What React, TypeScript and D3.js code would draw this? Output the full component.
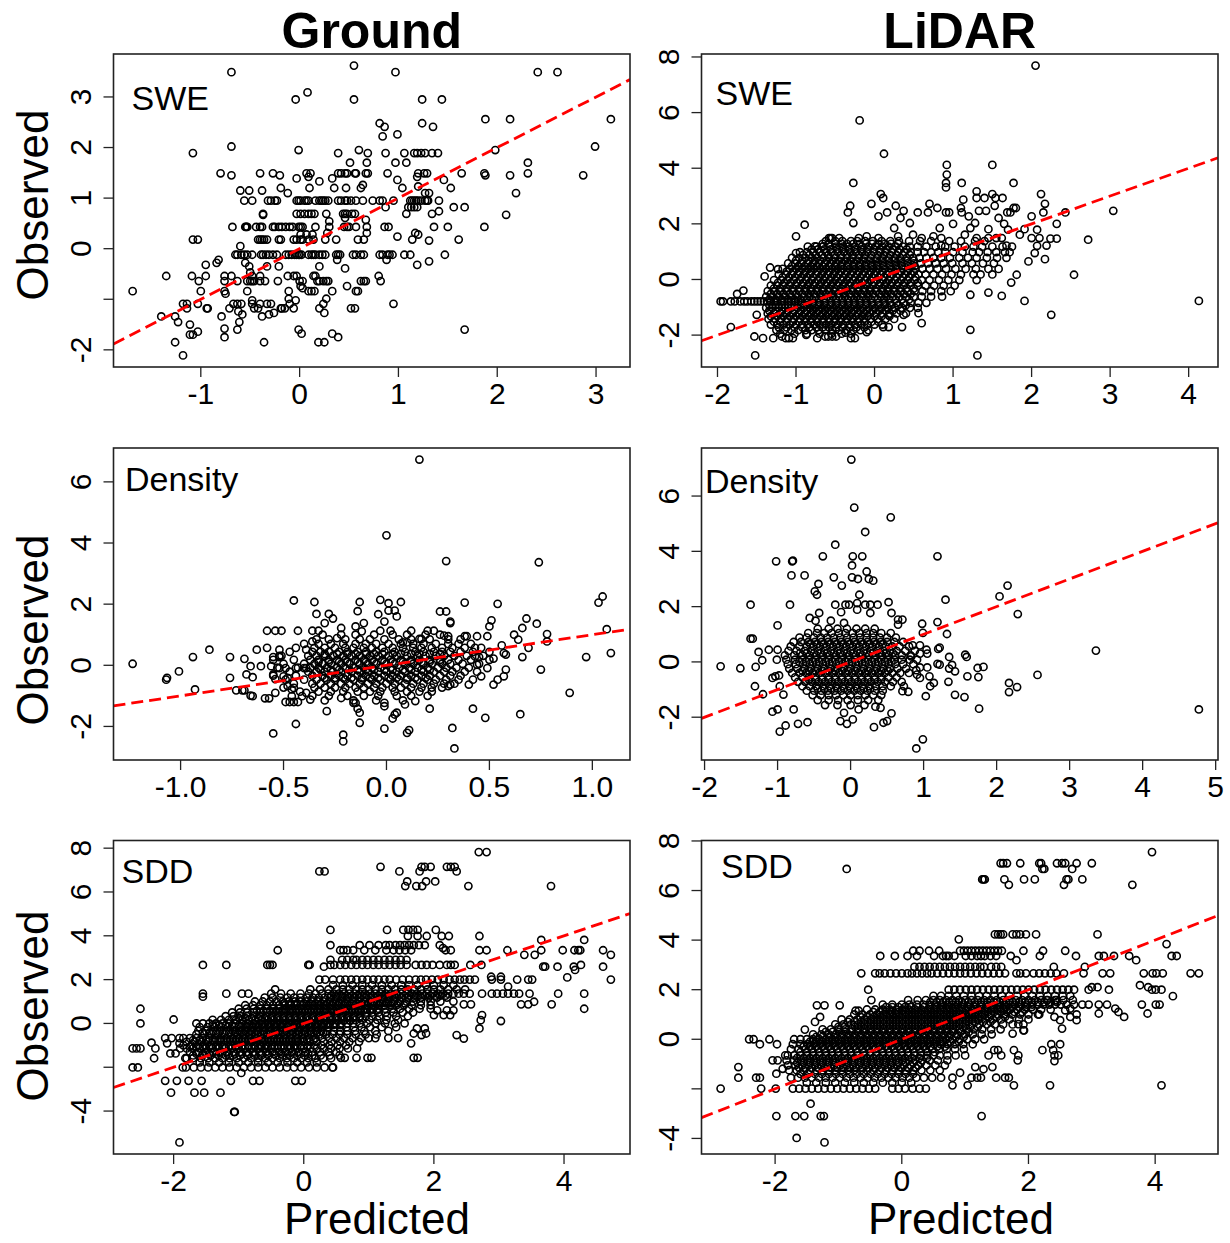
import React from "react";
import * as d3 from "d3";

type Row = [number, number[]];

// ---------- data: each row = [observed value, predicted values] ----------
const groundSWE: Row[] = [
  [3.62, [0.55]], [3.49, [-0.69, 0.97, 2.41, 2.61]], [3.09, [0.08]], [2.95, [-0.04, 0.55, 1.24, 1.44]],
  [2.56, [1.88, 2.13, 3.15]], [2.48, [0.81, 1.24]], [2.41, [0.86, 1.35]], [2.26, [0.99]], [2.22, [0.84]],
  [2.02, [-0.69, 2.99]], [1.95, [-0.01, 0.6, 1.98]],
  [1.89, [-1.08, 0.39, 0.69, 0.87, 1.06, 1.16, 1.19, 1.23, 1.27, 1.34, 1.4]],
  [1.7, [0.51, 0.68, 0.97, 1.08, 2.31]],
  [1.49, [-0.8, -0.4, -0.27, 0.07, 0.11, 0.39, 0.42, 0.46, 0.48, 0.56, 0.57, 0.67, 0.69, 0.89, 1.2, 1.26, 1.29, 1.64, 1.87, 2.31]],
  [1.45, [-0.69, -0.2, 1.88, 2.13, 2.87]], [1.42, [0.09, 1.19]], [1.39, [-0.03, 0.33]], [1.36, [0.99, 1.46]],
  [1.33, [0.2]], [1.26, [0.64]], [1.23, [1.2]], [1.2, [-0.19, 0.1, 0.35, 0.47, 0.62, 1.04, 1.53]],
  [1.15, [-0.6, -0.51, -0.38]], [1.1, [-0.12, 1.27, 1.31, 2.19]],
  [0.95, [-0.56, -0.48, -0.32, -0.29, -0.25, -0.23, -0.03, -0.01, 0.01, 0.05, 0.07, 0.09, 0.16, 0.2, 0.22, 0.24, 0.26, 0.29, 0.39, 0.42, 0.46, 0.48, 0.52, 0.57, 0.64, 0.74, 0.81, 0.84, 0.95, 1.12, 1.14, 1.16, 1.18, 1.2, 1.23, 1.27, 1.29, 1.3, 1.41]],
  [0.82, [0.87, 1.1, 1.13, 1.16, 1.19, 1.56, 1.67]], [0.74, [1.41]],
  [0.69, [-0.37, -0.03, 0.01, 0.05, 0.09, 0.12, 0.15, 0.27, 0.44, 0.46, 0.48, 0.53, 0.56, 1.08, 1.34]],
  [0.67, [-0.37, 2.09]], [0.61, [0.46]], [0.57, [0.67]], [0.54, [0.3]],
  [0.43, [-0.68, -0.55, -0.54, -0.53, -0.44, -0.4, -0.38, -0.27, -0.25, -0.21, -0.18, -0.14, -0.1, -0.07, -0.01, 0.01, 0.03, 0.16, 0.3, 0.45, 0.48, 0.5, 0.57, 0.68, 0.86, 0.9, 1.36, 1.5, 1.87]],
  [0.31, [0.28, 0.68, 1.17]], [0.28, [0.01, 0.07, 0.13, 1.2]], [0.24, [0.99]],
  [0.18, [-1.08, -1.03, -0.42, -0.4, -0.38, -0.36, -0.33, -0.21, -0.19, -0.06, -0.03, 0.01, 0.03, 0.09, 0.14, 0.26, 0.37, 0.59, 0.65, 1.14, 1.61]],
  [0.16, [1.31]], [0.05, [-0.6]],
  [-0.12, [-0.65, -0.63, -0.59, -0.56, -0.53, -0.48, -0.39, -0.37, -0.34, -0.31, -0.27, -0.23, -0.14, -0.11, -0.08, -0.05, -0.03, -0.01, 0.0, 0.02, 0.09, 0.12, 0.14, 0.16, 0.2, 0.23, 0.26, 0.37, 0.39, 0.41, 0.54, 0.57, 0.62, 0.65, 0.81, 0.84, 0.89, 0.91, 0.94, 1.06, 1.12, 1.47]],
  [-0.22, [-0.82, 0.38, 0.88]], [-0.25, [1.31]], [-0.28, [-0.84, -0.55]], [-0.32, [-0.95, 1.19]],
  [-0.35, [-0.51, -0.33, -0.21, 0.2]], [-0.39, [0.46]], [-0.47, [-0.5]],
  [-0.54, [-1.35, -1.09, -0.95, -0.76, -0.69, -0.48, -0.4, -0.12, -0.06, -0.03, 0.14, 0.16, 0.8]],
  [-0.64, [-1.02, -0.76, -0.63, -0.53, -0.5, -0.48, -0.46, -0.4, -0.35, -0.22, 0.0, 0.03, 0.18, 0.2, 0.24, 0.27, 0.29, 0.62, 0.65, 0.67, 0.82]],
  [-0.74, [0.01, 0.48]], [-0.78, [0.03]],
  [-0.84, [-1.69, -1.0, -0.76, -0.53, -0.11, 0.09, 0.12, 0.15, 0.33, 0.57, 0.59]],
  [-0.89, [-0.75]], [-0.99, [-0.11, 0.27]], [-1.02, [-0.48, -0.04]],
  [-1.09, [-1.18, -1.14, -1.03, -0.67, -0.63, -0.59, -0.48, -0.4, -0.33, -0.29, -0.1, 0.24, 0.95]],
  [-1.18, [-1.14, -0.94, -0.93, -0.71, -0.46, -0.42, -0.19, -0.18, -0.15, -0.06, 0.2, 0.52, 0.56]],
  [-1.24, [-0.62]], [-1.27, [-0.26, 0.25]], [-1.3, [-0.58, -0.31]], [-1.34, [-1.4, -1.26, -0.79, -0.38]],
  [-1.45, [-1.23, -0.61]], [-1.5, [-1.11]], [-1.58, [-0.76]], [-1.6, [-0.63, -0.01, 1.67]], [-1.64, [-1.03]],
  [-1.68, [0.02, 0.33]], [-1.7, [-1.11, -1.08]], [-1.75, [-0.76, 0.39]], [-1.85, [-1.26, -0.36, 0.19, 0.25]],
  [-2.11, [-1.18]],
];

const lidarSWE: Row[] = [
  [7.69, [2.05]], [5.72, [-0.19]], [4.52, [0.12]], [4.12, [0.92, 1.5]], [3.77, [0.92]],
  [3.47, [-0.27, 0.91, 1.11, 1.77]], [3.31, [0.91]], [3.17, [1.3]], [3.07, [0.08, 1.5, 2.12]],
  [2.93, [0.11, 1.3, 1.4, 1.54, 1.63]], [2.87, [1.13]], [2.72, [-0.04, 0.7, 2.17]], [2.65, [-0.31, 0.27, 1.53]],
  [2.57, [0.8, 1.1, 1.77, 1.8]], [2.47, [0.37, 1.33, 1.42, 3.04]],
  [2.41, [-0.34, 0.16, 0.55, 0.68, 0.91, 0.95, 1.11, 1.69, 1.73, 2.15, 2.43]],
  [2.27, [0.05, 1.2, 2.0]], [2.21, [0.33, 1.58]], [2.03, [-0.27, 0.45, 1.28]], [2.0, [1.0, 1.65, 2.32]],
  [1.97, [-0.89]], [1.85, [0.25, 0.83, 1.22]], [1.81, [1.45, 1.91]], [1.79, [1.7, 2.07]],
  [1.61, [0.49, 1.15, 1.85]], [1.55, [-1.0, -0.1, 0.3, 0.75]],
  [1.49, [-0.58, -0.56, -0.54, -0.45, -0.2, 0.05, 0.6, 0.85, 1.3, 1.45, 1.55, 1.62, 2.0, 2.1]],
  [1.47, [2.24, 2.32]], [1.43, [2.72]], [1.22, [0.85, 1.68, 2.19]], [1.21, [2.07]], [1.19, [-0.76, -0.65]],
  [0.95, [-1.0, 2.04]], [0.73, [2.17]], [0.65, [1.96]], [0.47, [-0.97]], [0.43, [-1.33]], [0.37, [-1.23]],
  [0.17, [1.81, 2.54]], [0.11, [-1.4]], [-0.11, [1.74]], [-0.4, [-1.67]], [-0.47, [1.45]], [-0.52, [-1.75]],
  [-0.55, [1.22]], [-0.59, [1.62]], [-0.77, [1.91, 4.13]],
  [-0.79, [-1.96, -1.93, -1.83, -1.78, -1.71, -1.66, -1.62, -1.57, -1.53, -1.49, -1.45, -1.41, -1.37, -1.32, -1.28, -1.24, -1.19, -1.15, -1.1, -1.06, -1.01, -0.97]],
  [-1.21, [0.56]], [-1.27, [-1.5, 0.18, 0.37, 2.25]], [-1.57, [0.6]], [-1.71, [-1.83, 0.11, 0.18, 0.35]],
  [-1.81, [1.22]], [-1.89, [-0.1]], [-1.91, [-0.37]], [-1.99, [-0.87]],
  [-2.05, [-1.53, -1.18, -0.63, -0.59, -0.54, -0.49]],
  [-2.11, [-1.42, -1.29, -1.13, -1.09, -1.04, -0.73, -0.3, -0.25]], [-2.73, [-1.52, 1.31]],
  [1.38, [-0.62, -0.5, -0.41, -0.3, -0.22, -0.12, -0.02, 0.09, 0.2, 0.31, 0.44, 0.58, 0.72, 0.95, 1.1, 1.28, 1.4]],
  [1.18, [-0.85, -0.74, -0.66, -0.57, -0.49, -0.4, -0.33, -0.25, -0.16, -0.08, 0.01, 0.1, 0.18, 0.27, 0.36, 0.45, 0.55, 0.66, 0.78, 0.9, 1.02, 1.15, 1.26, 1.37, 1.5, 1.63, 1.75]],
  [0.98, [-0.95, -0.86, -0.78, -0.7, -0.62, -0.55, -0.47, -0.39, -0.31, -0.24, -0.16, -0.09, -0.01, 0.07, 0.14, 0.22, 0.3, 0.38, 0.46, 0.55, 0.63, 0.72, 0.81, 0.9, 1.0, 1.12, 1.25, 1.33, 1.44, 1.55, 1.66, 1.72]],
  [0.78, [-1.05, -0.96, -0.88, -0.8, -0.73, -0.65, -0.58, -0.5, -0.43, -0.35, -0.28, -0.2, -0.13, -0.05, 0.03, 0.1, 0.18, 0.26, 0.33, 0.41, 0.49, 0.57, 0.66, 0.75, 0.85, 0.96, 1.08, 1.19, 1.3, 1.43, 1.56, 1.68]],
  [0.58, [-1.1, -1.01, -0.93, -0.85, -0.78, -0.71, -0.63, -0.56, -0.49, -0.41, -0.34, -0.26, -0.19, -0.11, -0.04, 0.04, 0.11, 0.19, 0.27, 0.34, 0.42, 0.5, 0.59, 0.68, 0.78, 0.88, 0.99, 1.12, 1.24, 1.38, 1.52]],
  [0.38, [-1.17, -1.08, -1.0, -0.92, -0.84, -0.77, -0.69, -0.62, -0.54, -0.47, -0.4, -0.32, -0.25, -0.17, -0.1, -0.02, 0.05, 0.13, 0.21, 0.28, 0.36, 0.44, 0.52, 0.61, 0.7, 0.8, 0.91, 1.03, 1.16, 1.29, 1.45, 1.58]],
  [0.18, [-1.22, -1.13, -1.05, -0.97, -0.9, -0.82, -0.74, -0.67, -0.59, -0.52, -0.45, -0.37, -0.3, -0.22, -0.15, -0.07, 0.0, 0.08, 0.16, 0.23, 0.31, 0.39, 0.47, 0.56, 0.65, 0.75, 0.86, 0.98, 1.1, 1.26, 1.35, 1.5]],
  [-0.02, [-1.28, -1.19, -1.11, -1.03, -0.95, -0.87, -0.8, -0.72, -0.65, -0.57, -0.5, -0.42, -0.35, -0.27, -0.2, -0.12, -0.05, 0.03, 0.11, 0.18, 0.26, 0.34, 0.42, 0.51, 0.6, 0.7, 0.82, 0.94, 1.08, 1.3]],
  [-0.22, [-1.32, -1.24, -1.16, -1.08, -1.0, -0.92, -0.85, -0.77, -0.7, -0.62, -0.55, -0.47, -0.4, -0.32, -0.25, -0.17, -0.1, -0.02, 0.06, 0.13, 0.21, 0.29, 0.37, 0.46, 0.55, 0.65, 0.76, 0.88, 1.02]],
  [-0.42, [-1.36, -1.28, -1.2, -1.12, -1.04, -0.96, -0.88, -0.81, -0.73, -0.66, -0.58, -0.51, -0.43, -0.36, -0.28, -0.21, -0.13, -0.06, 0.02, 0.1, 0.17, 0.25, 0.33, 0.42, 0.51, 0.61, 0.72, 0.85, 0.97]],
  [-0.62, [-1.38, -1.3, -1.22, -1.14, -1.06, -0.98, -0.9, -0.83, -0.75, -0.68, -0.6, -0.53, -0.45, -0.38, -0.3, -0.23, -0.15, -0.08, 0.0, 0.08, 0.15, 0.23, 0.31, 0.4, 0.5, 0.6, 0.72, 0.86]],
  [-0.84, [-0.92, -0.85, -0.78, -0.7, -0.63, -0.55, -0.48, -0.4, -0.33, -0.25, -0.18, -0.1, -0.03, 0.05, 0.13, 0.2, 0.28, 0.37, 0.46, 0.56, 0.66]],
  [-1.02, [-1.38, -1.3, -1.22, -1.14, -1.06, -0.98, -0.9, -0.82, -0.75, -0.67, -0.6, -0.52, -0.45, -0.37, -0.3, -0.22, -0.15, -0.07, 0.01, 0.09, 0.17, 0.26, 0.35, 0.45, 0.55]],
  [-1.22, [-1.36, -1.28, -1.2, -1.12, -1.04, -0.96, -0.89, -0.81, -0.74, -0.66, -0.59, -0.51, -0.44, -0.36, -0.29, -0.21, -0.14, -0.06, 0.02, 0.1, 0.19, 0.28, 0.4]],
  [-1.42, [-1.35, -1.27, -1.19, -1.11, -1.03, -0.95, -0.88, -0.8, -0.73, -0.65, -0.58, -0.5, -0.43, -0.35, -0.28, -0.2, -0.13, -0.05, 0.04, 0.14, 0.25]],
  [-1.62, [-1.32, -1.24, -1.16, -1.08, -1.0, -0.92, -0.85, -0.77, -0.7, -0.62, -0.55, -0.47, -0.4, -0.32, -0.25, -0.17, -0.09, 0.0, 0.1]],
  [-1.82, [-1.25, -1.15, -1.06, -0.97, -0.88, -0.8, -0.71, -0.62, -0.54, -0.45, -0.36, -0.27, -0.18, -0.08]],
  [-1.95, [-1.2, -1.02, -0.86, -0.7, -0.55, -0.42, -0.3]],
  [1.28, [-0.66, -0.58, -0.5, -0.42, -0.35, -0.27, -0.19, -0.11, -0.03, 0.05, 0.13, 0.21, 0.3]],
  [1.08, [-0.8, -0.72, -0.64, -0.56, -0.48, -0.41, -0.33, -0.25, -0.17, -0.09, -0.01, 0.07, 0.15, 0.23, 0.32, 0.41]],
  [0.88, [-0.91, -0.83, -0.75, -0.67, -0.59, -0.51, -0.43, -0.35, -0.28, -0.2, -0.12, -0.04, 0.04, 0.12, 0.2, 0.28, 0.36, 0.45]],
  [0.68, [-1.0, -0.92, -0.84, -0.76, -0.69, -0.61, -0.53, -0.45, -0.37, -0.3, -0.22, -0.14, -0.06, 0.02, 0.1, 0.18, 0.26, 0.34, 0.42, 0.5]],
  [0.48, [-1.05, -0.97, -0.89, -0.81, -0.73, -0.66, -0.58, -0.5, -0.43, -0.35, -0.27, -0.2, -0.12, -0.04, 0.03, 0.11, 0.19, 0.27, 0.35, 0.43, 0.51]],
  [0.28, [-1.12, -1.04, -0.96, -0.88, -0.81, -0.73, -0.65, -0.58, -0.5, -0.43, -0.35, -0.28, -0.2, -0.13, -0.05, 0.02, 0.1, 0.18, 0.26, 0.34, 0.42, 0.5]],
  [0.08, [-1.17, -1.09, -1.01, -0.93, -0.86, -0.78, -0.7, -0.63, -0.55, -0.48, -0.4, -0.33, -0.25, -0.18, -0.1, -0.03, 0.05, 0.12, 0.2, 0.28, 0.36, 0.44, 0.52]],
  [-0.12, [-1.23, -1.15, -1.07, -0.99, -0.91, -0.83, -0.76, -0.68, -0.61, -0.53, -0.46, -0.38, -0.31, -0.23, -0.16, -0.08, -0.01, 0.07, 0.15, 0.22, 0.3, 0.38, 0.46, 0.55]],
  [-0.32, [-1.28, -1.2, -1.12, -1.04, -0.96, -0.88, -0.81, -0.73, -0.66, -0.58, -0.51, -0.43, -0.36, -0.28, -0.21, -0.13, -0.06, 0.02, 0.1, 0.17, 0.25, 0.33, 0.41, 0.5]],
  [-0.52, [-1.32, -1.24, -1.16, -1.08, -1.0, -0.92, -0.84, -0.77, -0.69, -0.62, -0.54, -0.47, -0.39, -0.32, -0.24, -0.17, -0.09, -0.02, 0.06, 0.14, 0.21, 0.29, 0.37, 0.46]],
  [-0.72, [-1.34, -1.26, -1.18, -1.1, -1.02, -0.94, -0.86, -0.79, -0.71, -0.64, -0.56, -0.49, -0.41, -0.34, -0.26, -0.19, -0.11, -0.04, 0.04, 0.12, 0.19, 0.27, 0.35, 0.44]],
  [-0.92, [-1.34, -1.26, -1.18, -1.1, -1.02, -0.94, -0.86, -0.79, -0.71, -0.64, -0.56, -0.49, -0.41, -0.34, -0.26, -0.19, -0.11, -0.03, 0.05, 0.13, 0.21, 0.3, 0.4]],
  [-1.12, [-1.34, -1.26, -1.18, -1.1, -1.02, -0.94, -0.86, -0.78, -0.71, -0.63, -0.56, -0.48, -0.41, -0.33, -0.26, -0.18, -0.1, -0.02, 0.06, 0.14, 0.23, 0.33]],
  [-1.32, [-1.32, -1.24, -1.16, -1.08, -1.0, -0.92, -0.84, -0.77, -0.69, -0.62, -0.54, -0.47, -0.39, -0.32, -0.24, -0.16, -0.09, 0.0, 0.09, 0.19]],
  [-1.52, [-1.28, -1.2, -1.12, -1.04, -0.96, -0.88, -0.81, -0.73, -0.66, -0.58, -0.51, -0.43, -0.36, -0.28, -0.21, -0.13, -0.04, 0.05]],
  [-1.72, [-1.22, -1.12, -1.02, -0.92, -0.83, -0.74, -0.66, -0.58, -0.49, -0.41, -0.32, -0.23, -0.13]],
];

const groundDensity: Row[] = [
  [6.73, [0.16]], [4.25, [0.0]], [3.41, [0.29]], [3.37, [0.74]],
  [2.25, [1.05]], [2.14, [-0.03]], [2.12, [-0.45]], [2.07, [-0.35, -0.13, 0.07]], [2.05, [0.38, 1.03]], [2.03, [0.01]], [2.01, [0.54]],
  [1.79, [0.01, 0.04]], [1.77, [-0.14]], [1.76, [0.26, 0.29]], [1.68, [-0.34, -0.28]], [1.67, [-0.04]], [1.6, [0.05]],
  [1.53, [-0.26, 0.68]], [1.47, [0.51]], [1.43, [-0.01, 0.31]], [1.38, [-0.3, -0.11, 0.31]], [1.36, [0.73]],
  [1.27, [-0.15, 0.5]], [1.22, [-0.22, 0.66]], [1.18, [1.07]],
  [1.13, [-0.58, -0.54, -0.51, -0.43, -0.36, -0.33, -0.03, 0.02, 0.12, 0.2, 0.23]], [1.11, [-0.12]],
  [1.02, [0.78]], [1.0, [0.62]], [0.97, [0.28]], [0.95, [0.3, 0.38, 0.39, 0.44, 0.49]],
  [0.89, [-0.24]], [0.86, [0.16, 0.17]], [0.84, [0.64]], [0.78, [-0.36, 0.78]], [0.75, [0.08, 0.1]], [0.65, [0.56]],
  [0.57, [-0.58, 0.43, 0.69]], [0.51, [-0.86, -0.63, -0.52, -0.39]], [0.4, [0.57, 1.09]], [0.35, [0.58]], [0.31, [-0.51]],
  [0.29, [0.43]], [0.27, [-0.94, -0.76, -0.55, -0.52, 0.45, 0.66, 0.97]], [0.22, [0.52]], [0.21, [-0.69]],
  [0.05, [-1.233]], [0.02, [0.44]], [-0.03, [-0.66, -0.61, -0.56]], [-0.09, [-0.52, -0.49, -0.44, -0.4, -0.39, 0.49]],
  [-0.14, [0.58, 0.75]], [-0.2, [-1.008]], [-0.3, [-0.68, -0.55]], [-0.36, [-0.5, 0.46, 0.57]], [-0.39, [-0.65]],
  [-0.41, [-1.066, -0.76, -0.48]], [-0.45, [-0.54]], [-0.47, [-1.07, 0.54]], [-0.63, [0.31, 0.4, 0.52]], [-0.68, [-0.48, 0.3]],
  [-0.74, [-0.45]], [-0.79, [-0.93, -0.46]], [-0.82, [-0.73, -0.7, -0.69]], [-0.9, [-0.54, -0.39, 0.89]],
  [-0.99, [-0.66]], [-1.01, [-0.65, -0.46, -0.41]], [-1.07, [-0.22]], [-1.08, [-0.59, -0.57]], [-1.12, [-0.37]],
  [-1.17, [0.14]], [-1.2, [-0.49, -0.47, -0.45, -0.43]], [-1.23, [-0.16, -0.15, -0.01]], [-1.28, [0.09]], [-1.34, [-0.01]],
  [-1.42, [-0.14, 0.21, 0.42]], [-1.5, [-0.29]], [-1.55, [-0.13, 0.05]], [-1.6, [0.65]], [-1.61, [0.04]], [-1.72, [0.48]],
  [-1.74, [0.03]], [-1.88, [-0.13]], [-1.92, [-0.44]], [-2.05, [0.32]], [-2.07, [-0.01]], [-2.12, [0.11]], [-2.21, [0.1]],
  [-2.23, [-0.55]], [-2.27, [-0.21]], [-2.49, [-0.21]], [-2.72, [0.33]],
  [1.0, [-0.31, -0.22, -0.15, -0.06, 0.03, 0.1, 0.19, 0.26]],
  [0.85, [-0.34, -0.28, -0.2, -0.13, -0.08, -0.01, 0.06, 0.12, 0.21, 0.3, 0.36]],
  [0.7, [-0.4, -0.33, -0.27, -0.21, -0.15, -0.1, -0.05, 0.01, 0.07, 0.13, 0.18, 0.24, 0.3, 0.35, 0.41]],
  [0.57, [-0.44, -0.35, -0.3, -0.25, -0.2, -0.16, -0.11, -0.07, -0.02, 0.03, 0.08, 0.13, 0.17, 0.22, 0.27, 0.32, 0.38, 0.46]],
  [0.44, [-0.47, -0.36, -0.32, -0.28, -0.23, -0.19, -0.14, -0.1, -0.05, -0.01, 0.04, 0.09, 0.14, 0.18, 0.23, 0.27, 0.31, 0.36, 0.42, 0.5]],
  [0.31, [-0.52, -0.38, -0.34, -0.3, -0.26, -0.21, -0.17, -0.13, -0.08, -0.04, 0.01, 0.05, 0.1, 0.15, 0.19, 0.24, 0.28, 0.33, 0.39, 0.47]],
  [0.18, [-0.55, -0.45, -0.37, -0.33, -0.28, -0.24, -0.2, -0.15, -0.11, -0.07, -0.02, 0.02, 0.07, 0.12, 0.16, 0.21, 0.26, 0.3, 0.35, 0.41, 0.5]],
  [0.05, [-0.5, -0.4, -0.35, -0.31, -0.27, -0.22, -0.18, -0.13, -0.09, -0.05, 0.0, 0.04, 0.09, 0.13, 0.18, 0.22, 0.27, 0.31, 0.37, 0.45]],
  [-0.08, [-0.53, -0.43, -0.37, -0.33, -0.29, -0.24, -0.2, -0.16, -0.11, -0.07, -0.03, 0.02, 0.06, 0.11, 0.15, 0.2, 0.25, 0.29, 0.34, 0.4]],
  [-0.21, [-0.47, -0.38, -0.34, -0.3, -0.26, -0.22, -0.17, -0.13, -0.09, -0.04, 0.0, 0.05, 0.09, 0.14, 0.18, 0.23, 0.28, 0.32, 0.38, 0.44]],
  [-0.34, [-0.55, -0.44, -0.36, -0.31, -0.27, -0.23, -0.19, -0.14, -0.1, -0.06, -0.01, 0.03, 0.07, 0.12, 0.17, 0.21, 0.26, 0.31, 0.36]],
  [-0.47, [-0.49, -0.4, -0.34, -0.29, -0.25, -0.2, -0.16, -0.12, -0.07, -0.03, 0.02, 0.06, 0.1, 0.15, 0.2, 0.24, 0.29, 0.35, 0.42]],
  [-0.6, [-0.45, -0.36, -0.32, -0.27, -0.22, -0.18, -0.13, -0.09, -0.05, 0.0, 0.04, 0.09, 0.13, 0.18, 0.23, 0.28, 0.33]],
  [-0.73, [-0.5, -0.35, -0.3, -0.25, -0.2, -0.15, -0.11, -0.06, -0.02, 0.03, 0.07, 0.12, 0.17, 0.22, 0.27]],
  [-0.86, [-0.42, -0.33, -0.27, -0.21, -0.14, -0.08, -0.03, 0.04, 0.1, 0.16, 0.22]],
  [-1.0, [-0.36, -0.28, -0.19, -0.11, -0.04, 0.05, 0.12, 0.2]],
  [-1.15, [-0.3, -0.16, -0.05, 0.08]],
  [0.37, [-0.3, -0.24, -0.19, -0.15, -0.1, -0.06, -0.02, 0.03, 0.07, 0.12, 0.16, 0.21, 0.26]],
  [0.11, [-0.33, -0.28, -0.23, -0.19, -0.14, -0.1, -0.06, -0.01, 0.03, 0.08, 0.12, 0.17, 0.21, 0.26]],
  [-0.15, [-0.32, -0.27, -0.23, -0.18, -0.14, -0.1, -0.06, -0.01, 0.03, 0.08, 0.12, 0.17, 0.21]],
  [-0.41, [-0.3, -0.25, -0.21, -0.17, -0.12, -0.08, -0.04, 0.01, 0.05, 0.1, 0.14, 0.19]],
];

const lidarDensity: Row[] = [
  [7.32, [0.01]], [5.58, [0.05]], [5.23, [0.55]], [4.7, [0.2]], [4.24, [-0.21]], [3.82, [-0.38, 0.03, 0.16, 1.19]],
  [3.66, [-0.79]], [3.64, [-1.02, -0.8]], [3.49, [0.02]], [3.27, [0.22]], [3.13, [-0.81, -0.63]], [3.06, [-0.23, 0.02]],
  [3.0, [0.1, 0.25]], [2.94, [0.31]], [2.82, [-0.44]], [2.76, [-0.12, 2.15]], [2.55, [-0.49]], [2.43, [-0.46, 0.12]],
  [2.37, [2.04]], [2.25, [1.3]], [2.16, [0.52]], [2.13, [0.09]], [2.07, [-1.37, -0.83, -0.21, -0.07, -0.02, 0.2, 0.27, 0.37]],
  [1.89, [0.09]], [1.8, [-0.13]], [1.77, [-0.43, 0.27, 0.56]], [1.73, [2.29]], [1.59, [-0.56]], [1.53, [0.65, 0.71]],
  [1.49, [-0.48, -0.27]], [1.44, [1.19]], [1.41, [-0.09]], [1.38, [0.98]], [1.35, [0.65]], [1.32, [-1.0]],
  [1.05, [0.99]], [1.01, [1.32]], [0.84, [-1.37, -1.34]], [0.6, [0.85, 0.95]], [0.52, [1.22]], [0.47, [1.2]],
  [0.44, [-1.12, -1.0, 1.04]], [0.41, [3.36]], [0.36, [-1.26]], [0.3, [0.95, 1.05]], [0.26, [1.57]], [0.2, [0.83]],
  [0.18, [1.35, 1.59]], [0.08, [-1.01, 0.91]], [0.06, [-1.21]], [-0.07, [1.19]], [-0.1, [1.22]], [-0.11, [1.39]],
  [-0.16, [-1.78]], [-0.18, [-1.3, 1.82]], [-0.2, [0.95, 1.05]], [-0.22, [1.74]], [-0.23, [-1.51]], [-0.24, [1.35]],
  [-0.3, [0.9]], [-0.34, [1.43]], [-0.46, [0.91]], [-0.47, [2.56]], [-0.49, [-0.98]], [-0.52, [-1.03, 1.08, 1.6]],
  [-0.55, [1.75]], [-0.58, [-1.07, 0.95]], [-0.72, [1.34]], [-0.76, [1.14, 2.17]], [-0.88, [-1.31, -0.97, 0.73, 1.09]],
  [-0.91, [2.28]], [-1.06, [0.71]], [-1.08, [0.79]], [-1.09, [2.17]], [-1.17, [-1.2]], [-1.18, [-0.92]], [-1.19, [1.43]],
  [-1.24, [1.03]], [-1.27, [1.56]], [-1.62, [0.34]], [-1.66, [0.41]], [-1.69, [1.76]], [-1.72, [-1.0, -0.78, 0.11, 4.77]],
  [-1.8, [-1.07]], [-1.84, [-0.09]], [-1.86, [0.56]], [-2.08, [0.03]], [-2.14, [-0.14, 0.5]], [-2.18, [-0.59]],
  [-2.2, [0.45]], [-2.24, [-0.72, -0.05]], [-2.3, [-0.89]], [-2.36, [0.32]], [-2.52, [-0.97]], [-2.8, [0.99]], [-3.13, [0.9]],
  [1.2, [-0.45, -0.3, -0.18, -0.05, 0.08, 0.2, 0.33]],
  [1.04, [-0.58, -0.46, -0.36, -0.26, -0.16, -0.07, 0.03, 0.12, 0.22, 0.31, 0.42, 0.55]],
  [0.88, [-0.7, -0.6, -0.5, -0.41, -0.32, -0.23, -0.14, -0.05, 0.04, 0.13, 0.22, 0.31, 0.4, 0.5, 0.62]],
  [0.72, [-0.78, -0.68, -0.58, -0.49, -0.4, -0.31, -0.22, -0.13, -0.04, 0.05, 0.14, 0.23, 0.32, 0.41, 0.5, 0.6, 0.72]],
  [0.56, [-0.82, -0.7, -0.6, -0.51, -0.42, -0.33, -0.24, -0.15, -0.06, 0.03, 0.12, 0.21, 0.3, 0.39, 0.48, 0.57, 0.67, 0.8]],
  [0.4, [-0.85, -0.74, -0.63, -0.54, -0.45, -0.36, -0.27, -0.18, -0.09, 0.0, 0.09, 0.18, 0.27, 0.36, 0.45, 0.54, 0.63, 0.75, 0.88]],
  [0.24, [-0.9, -0.77, -0.66, -0.56, -0.47, -0.38, -0.29, -0.2, -0.11, -0.02, 0.07, 0.16, 0.25, 0.34, 0.43, 0.52, 0.61, 0.7, 0.82]],
  [0.08, [-0.88, -0.76, -0.66, -0.57, -0.48, -0.39, -0.3, -0.21, -0.12, -0.03, 0.06, 0.15, 0.24, 0.33, 0.42, 0.51, 0.6, 0.7, 0.81]],
  [-0.08, [-0.86, -0.75, -0.65, -0.56, -0.47, -0.38, -0.29, -0.2, -0.11, -0.02, 0.07, 0.16, 0.25, 0.34, 0.43, 0.52, 0.61, 0.72, 0.86]],
  [-0.24, [-0.84, -0.73, -0.63, -0.54, -0.45, -0.36, -0.27, -0.18, -0.09, 0.0, 0.09, 0.18, 0.27, 0.36, 0.45, 0.54, 0.64, 0.76]],
  [-0.4, [-0.8, -0.7, -0.61, -0.52, -0.43, -0.34, -0.25, -0.16, -0.07, 0.02, 0.11, 0.2, 0.29, 0.38, 0.47, 0.57, 0.68, 0.8]],
  [-0.56, [-0.76, -0.66, -0.57, -0.48, -0.39, -0.3, -0.21, -0.12, -0.03, 0.06, 0.15, 0.24, 0.33, 0.42, 0.52, 0.63]],
  [-0.72, [-0.72, -0.62, -0.53, -0.44, -0.35, -0.26, -0.17, -0.08, 0.01, 0.1, 0.19, 0.28, 0.37, 0.47, 0.58, 0.7]],
  [-0.88, [-0.66, -0.56, -0.47, -0.38, -0.29, -0.2, -0.11, -0.02, 0.07, 0.16, 0.25, 0.34, 0.44, 0.55]],
  [-1.04, [-0.6, -0.5, -0.4, -0.31, -0.22, -0.13, -0.04, 0.05, 0.14, 0.23, 0.33, 0.44]],
  [-1.2, [-0.52, -0.41, -0.3, -0.2, -0.1, 0.0, 0.1, 0.2, 0.31, 0.42]],
  [-1.38, [-0.45, -0.3, -0.17, -0.04, 0.1, 0.24, 0.38]],
  [-1.56, [-0.35, -0.18, 0.0, 0.19]],
  [0.64, [-0.55, -0.46, -0.37, -0.28, -0.19, -0.1, -0.01, 0.08, 0.17, 0.26, 0.35, 0.44]],
  [0.32, [-0.69, -0.6, -0.5, -0.41, -0.32, -0.23, -0.14, -0.05, 0.04, 0.13, 0.22, 0.31, 0.4, 0.49, 0.58]],
  [0.0, [-0.7, -0.61, -0.52, -0.43, -0.34, -0.25, -0.16, -0.07, 0.02, 0.11, 0.2, 0.29, 0.38, 0.47, 0.56]],
  [-0.32, [-0.66, -0.57, -0.48, -0.39, -0.3, -0.21, -0.12, -0.03, 0.06, 0.15, 0.24, 0.33, 0.42, 0.51]],
  [-0.64, [-0.57, -0.48, -0.39, -0.3, -0.21, -0.12, -0.03, 0.06, 0.15, 0.24, 0.33, 0.42]],
  [-0.96, [-0.45, -0.36, -0.27, -0.18, -0.09, 0.0, 0.09, 0.18, 0.27]],
];

const groundSDD: Row[] = [
  [7.82, [2.69, 2.81]], [7.15, [1.18, 1.81, 1.86, 1.95, 2.2, 2.26, 2.32]], [6.94, [0.24, 0.32, 1.47, 1.78, 2.35]],
  [6.48, [1.59, 1.88, 2.02]], [6.27, [1.56, 1.73, 1.82, 2.53, 3.8]],
  [4.27, [0.41, 1.28, 1.53, 1.61, 1.68, 1.75, 2.03]], [3.99, [1.6, 1.75, 1.89, 2.12, 2.23, 2.7]], [3.81, [3.65, 4.31]],
  [3.57, [0.41, 0.86, 1.01, 1.15, 1.26, 1.32, 1.41, 1.48, 1.55, 1.62, 1.69, 1.77, 1.86, 2.09]], [3.44, [2.14]],
  [3.34, [-0.4, 0.56, 0.61, 0.67, 0.76, 0.93, 1.1, 1.27, 1.38, 1.47, 1.56, 1.65, 2.18, 2.26, 2.7, 2.81, 3.13, 3.65, 3.98, 4.16, 4.22, 4.25, 4.6]],
  [3.13, [3.39, 3.55, 4.72]],
  [2.9, [0.41, 0.59, 0.67, 0.76, 0.81, 0.9, 0.98, 1.07, 1.15, 1.24, 1.32, 1.41, 1.49, 1.58]],
  [2.67, [-1.55, -1.19, -0.56, -0.52, -0.48, 0.07, 0.09, 0.41, 0.47, 0.56, 0.64, 0.73, 0.81, 0.9, 0.98, 1.07, 1.15, 1.24, 1.32, 1.41, 1.49, 1.58, 1.72, 1.81, 1.89, 1.98, 2.09, 2.2, 2.26, 2.32, 2.56, 2.73, 4.26]],
  [2.59, [0.31, 3.68, 3.71, 3.9, 4.15, 4.6]], [2.44, [4.17]], [2.13, [2.88, 3.03]], [2.1, [4.05]],
  [2.0, [0.24, 0.33, 0.45, 0.56, 0.64, 0.73, 0.81, 0.9, 0.98, 1.07, 1.15, 1.24, 1.32, 1.42, 1.52, 1.62, 1.72, 1.8, 1.88, 1.97, 2.06, 2.15, 2.24, 2.32, 2.4, 2.47, 2.55, 2.63, 2.89, 3.03, 3.28, 3.45, 3.51, 4.72]],
  [1.68, [3.14]], [1.55, [-0.44]],
  [1.36, [-1.55, -1.19, -0.95, -0.85, 2.74, 2.89, 2.97, 3.06, 3.14, 3.23, 3.31, 3.47, 3.91, 4.31]],
  [1.22, [-1.55]], [0.99, [3.54]], [0.87, [2.46, 2.57, 3.34, 3.45, 3.81]], [0.67, [-2.51, 4.31]], [0.6, [2.05, 2.2, 2.3]],
  [0.38, [2.0, 2.15, 2.25, 2.74]], [0.18, [-2.0]], [0.15, [2.72]], [0.11, [3.03]], [0.0, [-2.51]],
  [-0.23, [1.74, 1.86, 2.7]], [-0.46, [1.69, 1.88]], [-0.53, [1.81, 2.35]], [-0.67, [-2.13, -2.03, -1.91]], [-0.69, [2.46]],
  [-0.88, [-2.34]], [-0.91, [-2.1, -1.91, 1.65]], [-1.14, [-2.63, -2.57, -2.51, -2.28]], [-1.37, [-2.05, -1.97]],
  [-1.57, [0.57, 0.63, 0.81, 0.98, 1.04, 1.69, 1.75]], [-1.59, [-2.3, -1.8]], [-2.01, [-2.63, -2.55, -1.86, -1.81, 0.44]],
  [-2.26, [-0.96]], [-2.62, [-2.13, -1.95, -1.77, -1.57, -1.12, -0.78, -0.68, -0.13, -0.03]],
  [-3.16, [-2.04, -1.68, -1.53, -1.28]], [-4.04, [-1.07, -1.06]], [-5.43, [-1.91]],
  [1.75, [0.45, 0.6, 0.75, 0.9, 1.05, 1.2, 1.35, 1.5, 1.62, 1.75, 1.88, 2.0, 2.15, 2.3]],
  [1.55, [0.1, 0.25, 0.38, 0.5, 0.6, 0.7, 0.8, 0.9, 1.0, 1.1, 1.2, 1.3, 1.4, 1.5, 1.6, 1.7, 1.8, 1.9, 2.0, 2.1, 2.22, 2.35, 2.48]],
  [1.36, [-0.5, -0.35, -0.2, -0.05, 0.08, 0.18, 0.28, 0.38, 0.46, 0.54, 0.62, 0.7, 0.78, 0.86, 0.94, 1.02, 1.1, 1.18, 1.26, 1.34, 1.42, 1.5, 1.58, 1.66, 1.74, 1.82, 1.9, 1.98, 2.06, 2.14, 2.22, 2.3, 2.38, 2.46, 2.55]],
  [1.18, [-0.6, -0.48, -0.36, -0.25, -0.15, -0.05, 0.05, 0.14, 0.23, 0.32, 0.41, 0.5, 0.59, 0.68, 0.77, 0.86, 0.95, 1.04, 1.13, 1.22, 1.31, 1.4, 1.5, 1.6, 1.7, 1.8, 1.92, 2.05, 2.2]],
  [1.0, [-0.75, -0.63, -0.52, -0.42, -0.32, -0.23, -0.14, -0.05, 0.04, 0.13, 0.22, 0.31, 0.4, 0.49, 0.58, 0.67, 0.76, 0.85, 0.94, 1.03, 1.12, 1.21, 1.3, 1.39, 1.48, 1.58, 1.68, 1.8, 1.95, 2.1, 2.3]],
  [0.83, [-0.9, -0.78, -0.67, -0.57, -0.47, -0.38, -0.29, -0.2, -0.11, -0.02, 0.07, 0.16, 0.25, 0.34, 0.43, 0.52, 0.61, 0.7, 0.79, 0.88, 0.97, 1.06, 1.15, 1.24, 1.33, 1.43, 1.54, 1.66, 1.8, 1.95]],
  [0.67, [-1.0, -0.88, -0.77, -0.67, -0.57, -0.47, -0.38, -0.29, -0.2, -0.11, -0.02, 0.07, 0.16, 0.25, 0.34, 0.43, 0.52, 0.61, 0.7, 0.79, 0.88, 0.97, 1.06, 1.15, 1.25, 1.36, 1.48, 1.62, 1.78, 1.95]],
  [0.5, [-1.1, -0.98, -0.87, -0.77, -0.67, -0.57, -0.48, -0.39, -0.3, -0.21, -0.12, -0.03, 0.06, 0.15, 0.24, 0.33, 0.42, 0.51, 0.6, 0.69, 0.78, 0.87, 0.96, 1.05, 1.15, 1.26, 1.38, 1.52, 1.68]],
  [0.33, [-1.2, -1.08, -0.97, -0.87, -0.77, -0.67, -0.58, -0.49, -0.4, -0.31, -0.22, -0.13, -0.04, 0.05, 0.14, 0.23, 0.32, 0.41, 0.5, 0.59, 0.68, 0.77, 0.86, 0.95, 1.05, 1.16, 1.28, 1.42, 1.6]],
  [0.16, [-1.4, -1.27, -1.15, -1.04, -0.94, -0.84, -0.74, -0.64, -0.55, -0.46, -0.37, -0.28, -0.19, -0.1, -0.01, 0.08, 0.17, 0.26, 0.35, 0.44, 0.53, 0.62, 0.71, 0.8, 0.9, 1.01, 1.13, 1.27, 1.45]],
  [0.0, [-1.65, -1.55, -1.45, -1.35, -1.25, -1.15, -1.05, -0.95, -0.86, -0.77, -0.68, -0.59, -0.5, -0.41, -0.32, -0.23, -0.14, -0.05, 0.04, 0.13, 0.22, 0.31, 0.4, 0.49, 0.58, 0.67, 0.76, 0.86, 0.97, 1.1, 1.25, 1.4, 1.55]],
  [-0.17, [-1.6, -1.48, -1.37, -1.27, -1.17, -1.07, -0.97, -0.88, -0.79, -0.7, -0.61, -0.52, -0.43, -0.34, -0.25, -0.16, -0.07, 0.02, 0.11, 0.2, 0.29, 0.38, 0.47, 0.56, 0.66, 0.77, 0.89, 1.02, 1.2, 1.42]],
  [-0.34, [-1.62, -1.5, -1.39, -1.29, -1.19, -1.09, -0.99, -0.9, -0.81, -0.72, -0.63, -0.54, -0.45, -0.36, -0.27, -0.18, -0.09, 0.0, 0.09, 0.18, 0.27, 0.36, 0.46, 0.56, 0.67, 0.79, 0.93, 1.1, 1.3]],
  [-0.5, [-1.65, -1.53, -1.42, -1.32, -1.22, -1.12, -1.02, -0.93, -0.84, -0.75, -0.66, -0.57, -0.48, -0.39, -0.3, -0.21, -0.12, -0.03, 0.06, 0.15, 0.24, 0.34, 0.44, 0.55, 0.67, 0.8, 0.95, 1.12]],
  [-0.67, [-1.85, -1.75, -1.65, -1.55, -1.45, -1.36, -1.27, -1.18, -1.09, -1.0, -0.91, -0.82, -0.73, -0.64, -0.55, -0.46, -0.37, -0.28, -0.19, -0.1, -0.01, 0.08, 0.18, 0.28, 0.39, 0.5, 0.62, 0.75, 0.88, 1.0, 1.1, 1.3, 1.45]],
  [-0.84, [-1.8, -1.68, -1.57, -1.47, -1.37, -1.27, -1.17, -1.08, -0.99, -0.9, -0.81, -0.72, -0.63, -0.54, -0.45, -0.36, -0.27, -0.18, -0.09, 0.0, 0.1, 0.2, 0.31, 0.43, 0.56, 0.7, 0.85]],
  [-1.0, [-1.85, -1.73, -1.62, -1.52, -1.42, -1.32, -1.22, -1.12, -1.03, -0.94, -0.85, -0.76, -0.67, -0.58, -0.49, -0.4, -0.31, -0.22, -0.13, -0.04, 0.06, 0.16, 0.27, 0.39, 0.52, 0.65]],
  [-1.14, [-1.9, -1.8, -1.7, -1.6, -1.5, -1.4, -1.3, -1.2, -1.1, -1.0, -0.9, -0.8, -0.7, -0.6, -0.5, -0.4, -0.3, -0.2, -0.1, 0.0, 0.1, 0.2, 0.31, 0.42, 0.55, 0.68, 0.82]],
  [-1.3, [-1.75, -1.62, -1.5, -1.39, -1.28, -1.18, -1.08, -0.98, -0.88, -0.78, -0.68, -0.58, -0.48, -0.38, -0.28, -0.18, -0.08, 0.02, 0.13, 0.25, 0.38, 0.5]],
  [-1.46, [-1.7, -1.56, -1.43, -1.31, -1.2, -1.09, -0.98, -0.87, -0.76, -0.65, -0.54, -0.43, -0.32, -0.21, -0.1, 0.01, 0.13, 0.26, 0.4, 0.55]],
  [-1.59, [-1.82, -1.7, -1.58, -1.47, -1.36, -1.25, -1.14, -1.03, -0.92, -0.81, -0.7, -0.59, -0.48, -0.37, -0.26, -0.15, -0.04, 0.07, 0.18, 0.3, 0.42]],
  [-1.78, [-1.6, -1.45, -1.3, -1.15, -1.0, -0.85, -0.7, -0.55, -0.4, -0.25, -0.1, 0.05, 0.2]],
  [-2.01, [-1.69, -1.58, -1.47, -1.36, -1.25, -1.14, -1.03, -0.92, -0.81, -0.7, -0.59, -0.48, -0.37, -0.26, -0.15, -0.04, 0.08, 0.2, 0.32, 0.45]],
  [1.27, [0.42, 0.5, 0.58, 0.66, 0.74, 0.82, 0.9, 0.98, 1.06, 1.14, 1.22, 1.3, 1.38, 1.46, 1.54, 1.62, 1.7, 1.78, 1.86, 1.94, 2.02, 2.1, 2.18]],
  [0.92, [-0.3, -0.2, -0.1, 0.0, 0.09, 0.18, 0.27, 0.36, 0.45, 0.54, 0.63, 0.72, 0.81, 0.9, 0.99, 1.08, 1.17, 1.26, 1.35, 1.45, 1.55]],
  [0.58, [-0.72, -0.62, -0.52, -0.43, -0.34, -0.25, -0.16, -0.07, 0.02, 0.11, 0.2, 0.29, 0.38, 0.47, 0.56, 0.65, 0.74, 0.83, 0.92, 1.02, 1.12]],
  [0.25, [-1.0, -0.9, -0.8, -0.7, -0.6, -0.5, -0.41, -0.32, -0.23, -0.14, -0.05, 0.04, 0.13, 0.22, 0.31, 0.4, 0.49, 0.58, 0.67, 0.76, 0.86]],
  [-0.08, [-1.4, -1.3, -1.2, -1.1, -1.0, -0.91, -0.82, -0.73, -0.64, -0.55, -0.46, -0.37, -0.28, -0.19, -0.1, -0.01, 0.08, 0.17, 0.26, 0.35, 0.45, 0.56]],
  [-0.42, [-1.55, -1.45, -1.35, -1.25, -1.15, -1.06, -0.97, -0.88, -0.79, -0.7, -0.61, -0.52, -0.43, -0.34, -0.25, -0.16, -0.07, 0.02, 0.11, 0.2, 0.3]],
  [-0.76, [-1.7, -1.6, -1.5, -1.4, -1.31, -1.22, -1.13, -1.04, -0.95, -0.86, -0.77, -0.68, -0.59, -0.5, -0.41, -0.32, -0.23, -0.14, -0.05, 0.05, 0.15]],
  [-1.07, [-1.75, -1.65, -1.55, -1.45, -1.35, -1.25, -1.15, -1.05, -0.95, -0.85, -0.75, -0.65, -0.55, -0.45, -0.35, -0.25, -0.15, -0.05, 0.05]],
  [-1.38, [-1.65, -1.55, -1.45, -1.35, -1.25, -1.15, -1.05, -0.95, -0.85, -0.75, -0.65, -0.55, -0.45, -0.35, -0.25, -0.15, -0.05, 0.07]],
];

const lidarSDD: Row[] = [
  [7.55, [3.95]], [7.1, [1.56, 1.6, 1.66, 1.87, 2.17, 2.2, 2.45, 2.53, 2.58, 2.76, 3.0]], [6.87, [-0.87, 2.22, 2.25, 2.69]],
  [6.45, [1.27, 1.29, 1.31, 1.62, 1.93, 2.1, 2.6, 2.63, 2.85]], [6.23, [1.69, 2.56, 3.64]],
  [4.23, [1.47, 1.52, 1.56, 1.6, 1.75, 1.81, 1.87, 1.96, 2.12, 3.09]], [4.03, [0.9]], [3.84, [4.18]],
  [3.57, [0.18, 0.28, 0.43, 0.59, 0.92, 0.98, 1.04, 1.1, 1.16, 1.22, 1.28, 1.34, 1.4, 1.46, 1.52, 1.58, 1.92, 2.23, 2.58]],
  [3.36, [-0.34, -0.11, 0.09, 0.24, 0.51, 0.65, 0.7, 0.74, 0.83, 1.01, 1.1, 1.19, 1.25, 1.31, 1.4, 1.49, 1.72, 2.18, 2.75, 3.11, 3.19, 3.35, 3.59, 4.26, 4.34]],
  [3.19, [1.81, 3.7]],
  [2.92, [0.2, 0.28, 0.36, 0.44, 0.52, 0.6, 0.68, 0.76, 0.84, 0.92, 1.0, 1.08, 1.16, 1.24, 1.3, 1.41, 1.49, 1.57, 2.4, 2.89]],
  [2.66, [-0.64, -0.42, -0.35, -0.27, -0.18, -0.09, 0.0, 0.09, 0.16, 0.24, 0.32, 0.4, 0.47, 0.56, 0.65, 0.74, 0.83, 0.92, 1.0, 1.09, 1.18, 1.27, 1.36, 1.45, 1.54, 1.63, 1.81, 1.87, 1.96, 2.08, 2.17, 2.26, 2.35, 2.44, 2.56, 2.87, 3.17, 3.29, 3.82, 3.96, 4.02, 4.12, 4.56, 4.69]],
  [2.18, [3.76]], [2.1, [3.0, 3.09, 3.89]],
  [2.0, [-0.53, 0.74, 0.83, 0.92, 1.01, 1.1, 1.19, 1.28, 1.37, 1.46, 1.55, 1.64, 1.73, 1.82, 1.91, 2.0, 2.09, 2.18, 2.27, 2.36, 2.45, 2.54, 2.63, 2.72, 2.95, 3.27, 3.95, 4.01, 4.1]],
  [1.74, [4.28]], [1.58, [-0.48, 2.29, 2.44]], [1.37, [-1.34, -1.22, -0.98]], [1.4, [2.95, 3.11, 3.24, 3.79, 4.01, 4.07]],
  [1.24, [2.66, 3.37]], [1.17, [2.58]], [1.15, [-0.73, -0.68]], [1.1, [3.42]], [1.04, [3.11, 3.88]], [1.0, [2.17, 2.76]],
  [0.9, [-1.29, 2.41, 2.66, 3.51]], [0.77, [2.5, 2.76]], [0.7, [-1.37]], [0.61, [1.84]], [0.43, [2.53]], [0.39, [-1.53]],
  [0.36, [1.92, 1.93]], [0.23, [1.75]], [0.0, [-2.41, -2.34, -2.09]], [-0.2, [-2.24, -1.97, 2.36, 2.5]],
  [-0.44, [1.46, 1.52, 1.77, 2.22, 2.39]], [-0.65, [-1.84, 1.37, 1.57, 1.84, 2.41, 2.47]], [-0.85, [-2.04, -1.96, 1.83]],
  [-0.88, [2.41]], [-1.12, [-2.58, 1.16, 1.43]], [-1.19, [-1.88]], [-1.21, [1.29]], [-1.35, [0.92]], [-1.39, [-1.98]],
  [-1.55, [-2.58, -2.3, -2.24, 0.8, 1.1, 1.19, 1.25, 1.49, 1.63, 1.69]], [-1.86, [0.8, 1.04, 1.77, 2.34, 4.1]],
  [-1.99, [-2.86, -2.22, -1.99, -1.72]], [-2.6, [-1.44]], [-3.1, [-1.98, -1.68, -1.54, -1.28, -1.23, 1.26]],
  [-3.98, [-1.66]], [-4.16, [-1.22]],
  [1.75, [0.5, 0.62, 0.74, 0.86, 0.98, 1.1, 1.22, 1.34, 1.46, 1.58, 1.7, 1.82, 1.94, 2.06, 2.18, 2.3, 2.42, 2.54, 2.66]],
  [1.58, [0.1, 0.25, 0.38, 0.5, 0.6, 0.7, 0.8, 0.9, 1.0, 1.1, 1.2, 1.3, 1.4, 1.5, 1.6, 1.7, 1.8, 1.9, 2.0, 2.1, 2.2, 2.3, 2.42, 2.55, 2.7]],
  [1.4, [-0.3, -0.15, 0.0, 0.12, 0.24, 0.34, 0.44, 0.53, 0.62, 0.71, 0.8, 0.89, 0.98, 1.07, 1.16, 1.25, 1.34, 1.43, 1.52, 1.61, 1.7, 1.79, 1.88, 1.97, 2.06, 2.15, 2.24, 2.33, 2.42, 2.51, 2.6, 2.72, 2.85]],
  [1.2, [-0.55, -0.42, -0.3, -0.19, -0.09, 0.01, 0.11, 0.21, 0.31, 0.41, 0.51, 0.61, 0.71, 0.81, 0.91, 1.01, 1.11, 1.21, 1.31, 1.41, 1.51, 1.61, 1.71, 1.82, 1.94, 2.07, 2.2, 2.35]],
  [1.0, [-0.75, -0.62, -0.5, -0.39, -0.29, -0.19, -0.09, 0.01, 0.11, 0.21, 0.31, 0.41, 0.51, 0.61, 0.71, 0.81, 0.91, 1.01, 1.11, 1.21, 1.31, 1.41, 1.51, 1.62, 1.74, 1.87, 2.0, 2.15]],
  [0.8, [-0.95, -0.82, -0.7, -0.59, -0.49, -0.39, -0.29, -0.19, -0.09, 0.01, 0.11, 0.21, 0.31, 0.41, 0.51, 0.61, 0.71, 0.81, 0.91, 1.01, 1.11, 1.21, 1.32, 1.44, 1.57, 1.7, 1.85, 2.0]],
  [0.6, [-1.05, -0.92, -0.8, -0.69, -0.59, -0.49, -0.39, -0.29, -0.19, -0.09, 0.01, 0.11, 0.21, 0.31, 0.41, 0.51, 0.61, 0.71, 0.81, 0.91, 1.01, 1.11, 1.22, 1.34, 1.47, 1.6, 1.75, 1.92]],
  [0.4, [-1.25, -1.12, -1.0, -0.89, -0.79, -0.69, -0.59, -0.49, -0.39, -0.29, -0.19, -0.09, 0.01, 0.11, 0.21, 0.31, 0.41, 0.51, 0.61, 0.71, 0.81, 0.91, 1.02, 1.14, 1.27, 1.41, 1.56]],
  [0.2, [-1.4, -1.27, -1.15, -1.04, -0.94, -0.84, -0.74, -0.64, -0.54, -0.44, -0.34, -0.24, -0.14, -0.04, 0.06, 0.16, 0.26, 0.36, 0.46, 0.56, 0.66, 0.76, 0.87, 0.99, 1.12, 1.26, 1.42]],
  [0.0, [-1.7, -1.6, -1.5, -1.4, -1.3, -1.2, -1.1, -1.0, -0.9, -0.8, -0.7, -0.6, -0.5, -0.4, -0.3, -0.2, -0.1, 0.0, 0.1, 0.2, 0.3, 0.4, 0.5, 0.6, 0.7, 0.8, 0.91, 1.03, 1.16, 1.3]],
  [-0.2, [-1.72, -1.6, -1.49, -1.39, -1.29, -1.19, -1.09, -0.99, -0.89, -0.79, -0.69, -0.59, -0.49, -0.39, -0.29, -0.19, -0.09, 0.01, 0.11, 0.21, 0.31, 0.41, 0.51, 0.61, 0.72, 0.84, 0.97, 1.12]],
  [-0.4, [-1.75, -1.63, -1.52, -1.42, -1.32, -1.22, -1.12, -1.02, -0.92, -0.82, -0.72, -0.62, -0.52, -0.42, -0.32, -0.22, -0.12, -0.02, 0.08, 0.18, 0.28, 0.38, 0.48, 0.59, 0.71, 0.84, 0.98]],
  [-0.65, [-1.8, -1.7, -1.6, -1.5, -1.4, -1.3, -1.2, -1.1, -1.0, -0.9, -0.8, -0.7, -0.6, -0.5, -0.4, -0.3, -0.2, -0.1, 0.0, 0.1, 0.2, 0.3, 0.4, 0.5, 0.6, 0.72, 0.85, 1.0]],
  [-0.85, [-1.82, -1.7, -1.59, -1.49, -1.39, -1.29, -1.19, -1.09, -0.99, -0.89, -0.79, -0.69, -0.59, -0.49, -0.39, -0.29, -0.19, -0.09, 0.01, 0.11, 0.21, 0.32, 0.44, 0.57, 0.72]],
  [-1.05, [-1.8, -1.68, -1.57, -1.47, -1.37, -1.27, -1.17, -1.07, -0.97, -0.87, -0.77, -0.67, -0.57, -0.47, -0.37, -0.27, -0.17, -0.07, 0.03, 0.14, 0.26, 0.39, 0.53, 0.68]],
  [-1.25, [-1.78, -1.66, -1.55, -1.45, -1.35, -1.25, -1.15, -1.05, -0.95, -0.85, -0.75, -0.65, -0.55, -0.45, -0.35, -0.25, -0.15, -0.05, 0.06, 0.18, 0.31, 0.45, 0.6]],
  [-1.55, [-1.75, -1.64, -1.53, -1.42, -1.31, -1.2, -1.09, -0.98, -0.87, -0.76, -0.65, -0.54, -0.43, -0.32, -0.21, -0.1, 0.01, 0.12, 0.23, 0.35, 0.48, 0.62]],
  [-1.75, [-1.5, -1.35, -1.2, -1.05, -0.9, -0.75, -0.6, -0.45, -0.3, -0.15, 0.0, 0.15]],
  [-1.99, [-1.62, -1.52, -1.42, -1.32, -1.22, -1.12, -1.02, -0.92, -0.82, -0.72, -0.62, -0.52, -0.42, -0.15, -0.05, 0.05, 0.17, 0.28, 0.38]],
  [1.5, [0.45, 0.55, 0.65, 0.75, 0.85, 0.95, 1.05, 1.15, 1.25, 1.35, 1.45, 1.55, 1.65, 1.75, 1.85, 1.95, 2.05, 2.15, 2.25, 2.35, 2.45]],
  [1.3, [-0.25, -0.15, -0.05, 0.05, 0.15, 0.25, 0.35, 0.45, 0.55, 0.65, 0.75, 0.85, 0.95, 1.05, 1.15, 1.25, 1.35, 1.45, 1.55, 1.65, 1.75, 1.85, 1.95, 2.05]],
  [1.1, [-0.45, -0.35, -0.25, -0.15, -0.05, 0.06, 0.16, 0.26, 0.36, 0.46, 0.56, 0.66, 0.76, 0.86, 0.96, 1.06, 1.16, 1.26, 1.36, 1.46, 1.56, 1.66, 1.78, 1.9]],
  [0.9, [-0.65, -0.55, -0.44, -0.34, -0.24, -0.14, -0.04, 0.06, 0.16, 0.26, 0.36, 0.46, 0.56, 0.66, 0.76, 0.86, 0.96, 1.06, 1.16, 1.26, 1.38, 1.5, 1.63]],
  [0.7, [-0.85, -0.75, -0.64, -0.54, -0.44, -0.34, -0.24, -0.14, -0.04, 0.06, 0.16, 0.26, 0.36, 0.46, 0.56, 0.66, 0.76, 0.86, 0.96, 1.06, 1.16, 1.28, 1.4]],
  [0.5, [-1.0, -0.9, -0.74, -0.64, -0.54, -0.44, -0.34, -0.24, -0.14, -0.04, 0.06, 0.16, 0.26, 0.36, 0.46, 0.56, 0.66, 0.76, 0.86, 0.96, 1.08, 1.2]],
  [0.3, [-1.2, -1.09, -0.99, -0.89, -0.79, -0.69, -0.59, -0.49, -0.39, -0.29, -0.19, -0.09, 0.01, 0.11, 0.21, 0.31, 0.41, 0.51, 0.61, 0.71, 0.81, 0.93, 1.06]],
  [0.1, [-1.35, -1.25, -1.15, -1.05, -0.95, -0.85, -0.75, -0.65, -0.55, -0.45, -0.35, -0.25, -0.15, -0.05, 0.05, 0.15, 0.25, 0.35, 0.45, 0.55, 0.65, 0.75, 0.86, 0.98]],
  [-0.1, [-1.45, -1.35, -1.25, -1.15, -1.05, -0.95, -0.85, -0.75, -0.65, -0.55, -0.45, -0.35, -0.25, -0.15, -0.05, 0.05, 0.15, 0.25, 0.35, 0.45, 0.55, 0.65, 0.77, 0.9]],
  [-0.3, [-1.55, -1.45, -1.35, -1.25, -1.15, -1.05, -0.95, -0.85, -0.75, -0.65, -0.55, -0.45, -0.35, -0.25, -0.15, -0.05, 0.05, 0.15, 0.25, 0.35, 0.45, 0.56, 0.68]],
  [-0.52, [-1.6, -1.5, -1.4, -1.3, -1.2, -1.1, -1.0, -0.9, -0.8, -0.7, -0.6, -0.5, -0.4, -0.3, -0.2, -0.1, 0.0, 0.1, 0.2, 0.3, 0.4, 0.52]],
  [-0.75, [-1.65, -1.55, -1.45, -1.35, -1.25, -1.15, -1.05, -0.95, -0.85, -0.75, -0.65, -0.55, -0.45, -0.35, -0.25, -0.15, -0.05, 0.05, 0.16, 0.28, 0.4]],
  [-0.95, [-1.65, -1.55, -1.45, -1.35, -1.25, -1.15, -1.05, -0.95, -0.85, -0.75, -0.65, -0.55, -0.45, -0.35, -0.25, -0.15, -0.05, 0.06, 0.18, 0.3]],
  [-1.15, [-1.62, -1.52, -1.42, -1.32, -1.22, -1.12, -1.02, -0.92, -0.82, -0.72, -0.62, -0.52, -0.42, -0.32, -0.22, -0.12, -0.01, 0.1, 0.22]],
  [-1.4, [-1.6, -1.48, -1.37, -1.26, -1.15, -1.04, -0.93, -0.82, -0.71, -0.6, -0.49, -0.38, -0.27, -0.16, -0.05, 0.06, 0.18]],
];

// ---------- labels and ticks ----------
const columnTitles = ["Ground", "LiDAR"];
const panelLabels = ["SWE", "SWE", "Density", "Density", "SDD", "SDD"];
const xTickValues = [
  [-1, 0, 1, 2, 3], [-2, -1, 0, 1, 2, 3, 4], [-1, -0.5, 0, 0.5, 1], [-2, -1, 0, 1, 2, 3, 4, 5], [-2, 0, 2, 4], [-2, 0, 2, 4],
];
const xTickLabels = [
  ["-1", "0", "1", "2", "3"], ["-2", "-1", "0", "1", "2", "3", "4"], ["-1.0", "-0.5", "0.0", "0.5", "1.0"],
  ["-2", "-1", "0", "1", "2", "3", "4", "5"], ["-2", "0", "2", "4"], ["-2", "0", "2", "4"],
];
const yTickValues = [
  [-2, -1, 0, 1, 2, 3], [-2, 0, 2, 4, 6, 8], [-2, 0, 2, 4, 6], [-2, 0, 2, 4, 6], [-4, -2, 0, 2, 4, 6, 8], [-4, -2, 0, 2, 4, 6, 8],
];
const yTickLabels = [
  ["-2", "", "0", "1", "2", "3"], ["-2", "0", "2", "4", "6", "8"], ["-2", "0", "2", "4", "6"], ["-2", "0", "2", "4", "6"],
  ["-4", "", "0", "2", "4", "6", "8"], ["-4", "", "0", "2", "4", "6", "8"],
];
const yAxisTitle = "Observed";
const xAxisTitle = "Predicted";

const panelData = [groundSWE, lidarSWE, groundDensity, lidarDensity, groundSDD, lidarSDD];

// ---------- layout ----------
const COLS: [number, number][] = [[113.5, 630], [701.5, 1218]];
const ROWS: [number, number][] = [[54, 367], [448, 760], [840.5, 1154]];
const LABEL_POS: [number, number][] = [[131.5, 110], [715.5, 105], [125, 491], [705, 493], [121.5, 883], [721, 878]];
const OBS_CENTERS = [205, 630, 1006];
const PRED_CENTERS = [377, 961];
const FONT = "'Liberation Sans', Arial, Helvetica, sans-serif";

const expand = (rows: Row[]) => rows.flatMap(([y, xs]) => xs.map((x) => [x, y] as [number, number]));
const padDomain = (ext: [number, number]): [number, number] => {
  const r = ext[1] - ext[0];
  return [ext[0] - 0.04 * r, ext[1] + 0.04 * r];
};

function Panel({ idx }: { idx: number }) {
  const col = idx % 2;
  const row = Math.floor(idx / 2);
  const pts = expand(panelData[idx]);
  const [x0, x1] = COLS[col];
  const [y0, y1] = ROWS[row];
  const xd = padDomain(d3.extent(pts, (d) => d[0]) as [number, number]);
  const yd = padDomain(d3.extent(pts, (d) => d[1]) as [number, number]);
  const x = d3.scaleLinear().domain(xd).range([x0, x1]);
  const y = d3.scaleLinear().domain(yd).range([y1, y0]);
  const lo = Math.max(xd[0], yd[0]);
  const hi = Math.min(xd[1], yd[1]);
  const linePath = d3.line()([[x(lo), y(lo)], [x(hi), y(hi)]]) || "";
  const clipId = `clip-${idx}`;
  return (
    <g>
      <defs>
        <clipPath id={clipId}>
          <rect x={x0} y={y0} width={x1 - x0} height={y1 - y0} />
        </clipPath>
      </defs>
      <g clipPath={`url(#${clipId})`}>
        {pts.map((p, i) => (
          <circle key={i} cx={x(p[0])} cy={y(p[1])} r={3.6} fill="none" stroke="#000" strokeWidth={1.6} />
        ))}
        <path d={linePath} stroke="#ff0000" strokeWidth={2.8} strokeDasharray="12,6" fill="none" />
      </g>
      <rect x={x0} y={y0} width={x1 - x0} height={y1 - y0} fill="none" stroke="#222" strokeWidth={1.6} />
      {xTickValues[idx].map((t, i) => (
        <g key={`xt${i}`}>
          <line x1={x(t)} x2={x(t)} y1={y1} y2={y1 + 10} stroke="#222" strokeWidth={1.3} />
          <text x={x(t)} y={y1 + 37} textAnchor="middle" fontSize={30} fill="#000">
            {xTickLabels[idx][i]}
          </text>
        </g>
      ))}
      {yTickValues[idx].map((t, i) => (
        <g key={`yt${i}`}>
          <line x1={x0 - 10} x2={x0} y1={y(t)} y2={y(t)} stroke="#222" strokeWidth={1.3} />
          <text
            transform={`translate(${x0 - 23},${y(t)}) rotate(-90)`}
            textAnchor="middle"
            fontSize={30}
            fill="#000"
          >
            {yTickLabels[idx][i]}
          </text>
        </g>
      ))}
      <text x={LABEL_POS[idx][0]} y={LABEL_POS[idx][1]} fontSize={34} fill="#000">
        {panelLabels[idx]}
      </text>
    </g>
  );
}

export default function App() {
  return (
    <svg
      width={1230}
      height={1243}
      style={{ position: "absolute", left: 0, top: 0, background: "#fff" }}
      fontFamily={FONT}
    >
      <rect x={0} y={0} width={1230} height={1243} fill="#fff" />
      {columnTitles.map((t, i) => (
        <text key={t} x={(COLS[i][0] + COLS[i][1]) / 2} y={48} textAnchor="middle" fontSize={50} fontWeight="bold" fill="#000">
          {t}
        </text>
      ))}
      {OBS_CENTERS.map((c, i) => (
        <text key={`o${i}`} transform={`translate(48,${c}) rotate(-90)`} textAnchor="middle" fontSize={44} fill="#000">
          {yAxisTitle}
        </text>
      ))}
      {PRED_CENTERS.map((c, i) => (
        <text key={`p${i}`} x={c} y={1234} textAnchor="middle" fontSize={44} fill="#000">
          {xAxisTitle}
        </text>
      ))}
      {panelData.map((_, i) => (
        <Panel key={i} idx={i} />
      ))}
    </svg>
  );
}
